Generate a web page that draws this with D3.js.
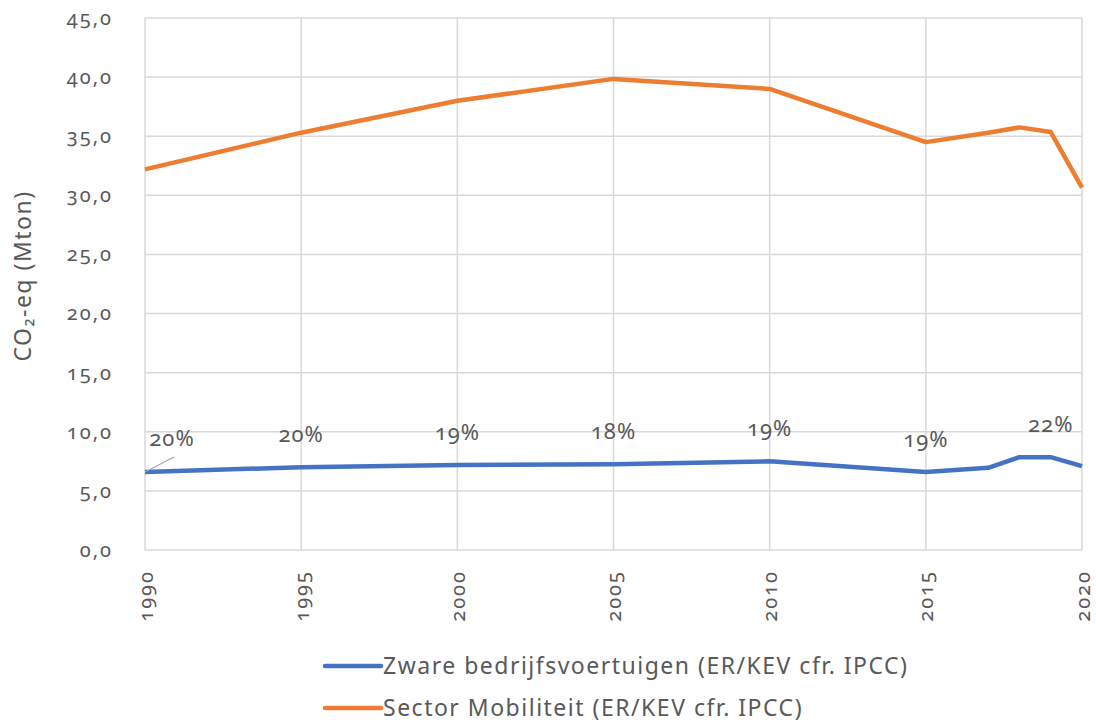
<!DOCTYPE html>
<html>
<head>
<meta charset="utf-8">
<script src="https://cdn.jsdelivr.net/npm/d3@7"></script>
<style>
  body { margin: 0; background: #fff; }
  svg text { font-family: "Noto Sans", "Open Sans", sans-serif; font-variant-numeric: oldstyle-nums; fill: #595959; }
</style>
</head>
<body>
<div id="chart"></div>
<script>
const years = [1990, 1995, 2000, 2005, 2010, 2015, 2017, 2018, 2019, 2020];
const zwareBedrijfsvoertuigen = [6.6, 7.0, 7.2, 7.25, 7.5, 6.6, 6.95, 7.85, 7.85, 7.1];
const sectorMobiliteit = [32.2, 35.3, 38.0, 39.85, 39.0, 34.5, 35.3, 35.75, 35.35, 30.65];
const shareLabels = ["20%", "20%", "19%", "18%", "19%", "19%", null, null, "22%", null];
const yTicks = [0, 5, 10, 15, 20, 25, 30, 35, 40, 45];
const xTicks = [1990, 1995, 2000, 2005, 2010, 2015, 2020];
const seriesNames = ["Zware bedrijfsvoertuigen (ER/KEV cfr. IPCC)", "Sector Mobiliteit (ER/KEV cfr. IPCC)"];

const color = {blue: "#4472C4", orange: "#ED7D31"};

const width = 1096;
const height = 724;
const margin = {top: 18, right: 14, bottom: 174, left: 145};

const svg = d3.select("#chart")
    .append("svg")
    .attr("width", width)
    .attr("height", height);

const xScale = d3.scaleLinear()
    .domain([1990, 2020])
    .range([margin.left, width - margin.right]);

const yScale = d3.scaleLinear()
    .domain([0, 45])
    .range([height - margin.bottom, margin.top]);

// grid
svg.append("g")
    .selectAll("line")
    .data(yTicks)
    .join("line")
    .attr("x1", xScale(1990))
    .attr("x2", xScale(2020))
    .attr("y1", d => yScale(d))
    .attr("y2", d => yScale(d))
    .attr("stroke", "#d9d9d9")
    .attr("stroke-width", 1.5);

svg.append("g")
    .selectAll("line")
    .data(xTicks)
    .join("line")
    .attr("x1", d => xScale(d))
    .attr("x2", d => xScale(d))
    .attr("y1", yScale(0))
    .attr("y2", yScale(45))
    .attr("stroke", "#d9d9d9")
    .attr("stroke-width", 1.5);

// y axis
const yAxis = svg.append("g")
    .attr("transform", `translate(${margin.left}, 0)`)
    .call(d3.axisLeft(yScale).tickValues(yTicks).tickSize(0).tickPadding(32)
        .tickFormat(d => d3.format(".1f")(d).replace(".", ",")));
yAxis.select(".domain").remove();
yAxis.selectAll("text")
    .attr("font-size", 20)
    .attr("letter-spacing", "2px")
    .attr("fill", "#595959");

// x axis
const xAxis = svg.append("g")
    .attr("transform", `translate(0, ${yScale(0)})`)
    .call(d3.axisBottom(xScale).tickValues(xTicks).tickSize(0).tickFormat(d3.format("d")));
xAxis.select(".domain").remove();
xAxis.selectAll("text")
    .attr("font-size", 20)
    .attr("letter-spacing", "2px")
    .attr("fill", "#595959")
    .attr("text-anchor", "end")
    .attr("transform", "rotate(-90)")
    .attr("x", -20)
    .attr("y", 0)
    .attr("dy", "0.35em");

// y label
svg.append("text")
    .attr("transform", "translate(31, 276) rotate(-90)")
    .attr("text-anchor", "middle")
    .attr("font-size", 23)
    .attr("letter-spacing", "1.5px")
    .text("CO₂-eq (Mton)");

// lines
const line = values => d3.line()
    .x((d, i) => xScale(years[i]))
    .y(d => yScale(d))(values);

svg.append("path")
    .attr("d", line(sectorMobiliteit))
    .attr("fill", "none")
    .attr("stroke", color.orange)
    .attr("stroke-width", 4.5)
    .attr("stroke-linejoin", "round");

svg.append("path")
    .attr("d", line(zwareBedrijfsvoertuigen))
    .attr("fill", "none")
    .attr("stroke", color.blue)
    .attr("stroke-width", 4.5)
    .attr("stroke-linejoin", "round");

// share labels
const labelData = years.map((y, i) => ({year: y, value: zwareBedrijfsvoertuigen[i], label: shareLabels[i]}))
    .filter(d => d.label);

labelData.forEach((d, i) => {
    const px = xScale(d.year);
    const py = yScale(d.value);
    let lx = px, ly = py - 33;
    if (i === 0) {
        lx = px + 27;
        ly = py - 34;
        svg.append("line")
            .attr("x1", px).attr("y1", py)
            .attr("x2", px + 29).attr("y2", py - 15)
            .attr("stroke", "#a6a6a6")
            .attr("stroke-width", 1.2);
    }
    svg.append("text")
        .attr("x", lx)
        .attr("y", ly)
        .attr("dy", "0.35em")
        .attr("text-anchor", "middle")
        .attr("font-size", 22)
        .attr("letter-spacing", "1px")
        .attr("fill", "#404040")
        .text(d.label);
});

// legend
const legend = svg.append("g")
    .selectAll("g")
    .data(seriesNames)
    .join("g")
    .attr("transform", (d, i) => `translate(325, ${666 + i * 42})`);

legend.append("line")
    .attr("x1", 0).attr("x2", 56)
    .attr("stroke", (d, i) => i === 0 ? color.blue : color.orange)
    .attr("stroke-width", 4.5)
    .attr("stroke-linecap", "round");

legend.append("text")
    .attr("x", 58)
    .attr("dy", "0.35em")
    .attr("font-size", 23)
    .attr("letter-spacing", "1.5px")
    .attr("fill", "#595959")
    .text(d => d);
</script>
</body>
</html>
